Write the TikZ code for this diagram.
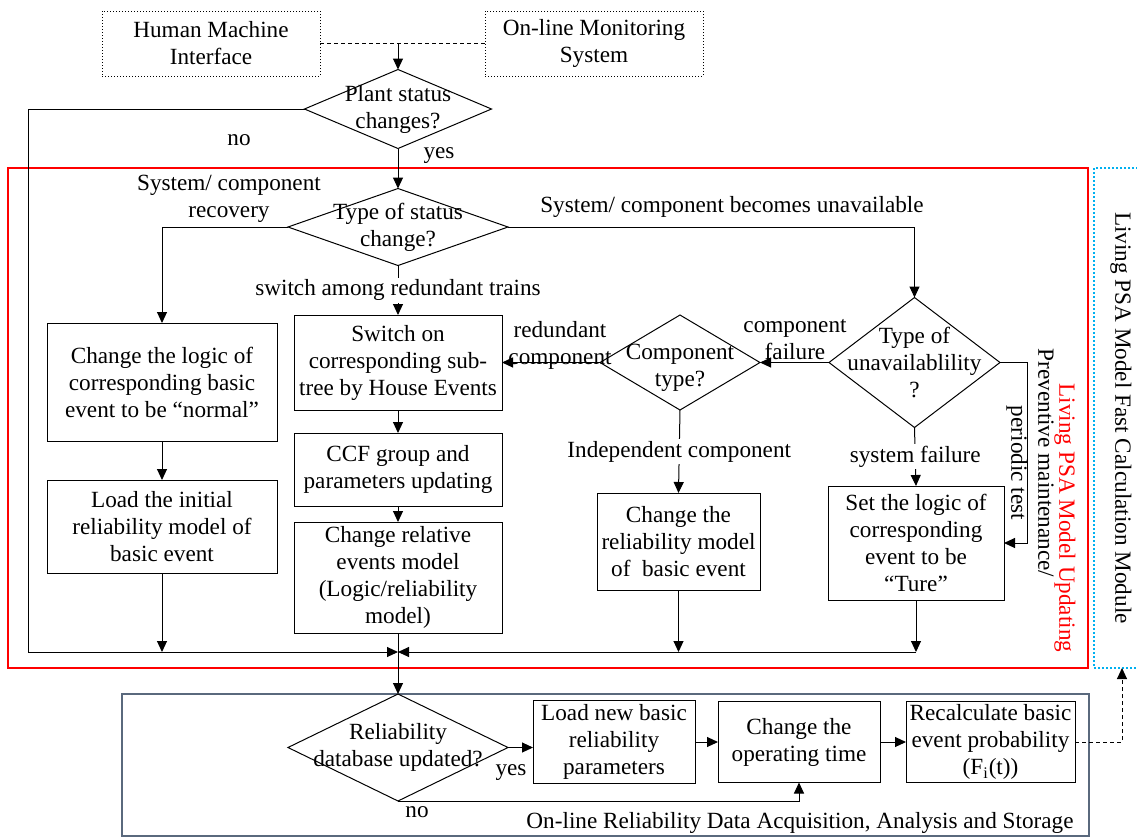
\documentclass[tikz,border=0pt]{standalone}
\usepackage{fontspec}
\setmainfont{Liberation Serif}
\usetikzlibrary{shapes.geometric, arrows.meta}
\definecolor{updred}{RGB}{255,0,0}
\definecolor{calcblue}{RGB}{0,176,240}
\definecolor{acqgray}{RGB}{90,105,125}

\begin{document}
\begin{tikzpicture}[x=0.5pt, y=-0.5pt, line width=0.5pt,
  font=\fontsize{11.6}{13.5}\selectfont,
  arr/.style={-{Triangle[length=5.5pt,width=5pt]}},
  box/.style={draw, rectangle, align=center, inner sep=0pt, outer sep=0pt},
  ext/.style={draw, densely dotted, rectangle, align=center, inner sep=0pt,
    outer sep=0pt, minimum width=109pt, minimum height=32.5pt},
  decide/.style={draw, diamond, inner sep=0pt, outer sep=0pt},
  txt/.style={align=center, inner sep=1pt},
  gap/.style={txt, fill=white}]

\useasboundingbox (0,0) rectangle (1137,837);

% Frames
\draw[updred, line width=1pt] (8,168) rectangle (1088,668);
\draw[calcblue, line width=1pt, densely dotted] (1094,168) rectangle (1150,668);
\draw[acqgray, line width=0.7pt] (122,694) rectangle (1089,836);

% External sources
\node[ext] (hmi) at (211,43.5) {Human Machine\\Interface};
\node[ext] (oms) at (594,43.5) {On-line Monitoring\\System};
\coordinate (hub) at (398,43.5);

% Decisions
\node[decide, minimum width=93.5pt, minimum height=39.5pt] (plant) at (398,109) {};
\node[txt] (plant-t) at (plant) {Plant status\\changes?};
\node[decide, minimum width=110pt, minimum height=38.5pt] (stype) at (398,227) {};
\node[txt] (stype-t) at (stype) {Type of status\\change?};
\node[decide, minimum width=80pt, minimum height=47.5pt] (comp) at (680,362.5) {};
\node[txt] (comp-t) at (680,368) {Component\\type?};
\node[decide, minimum width=85.5pt, minimum height=65pt] (unav) at (914.5,362.5) {};
\node[txt] (unav-t) at (unav) {Type of\\unavailablility\\?};
\node[decide, minimum width=110pt, minimum height=53.5pt] (reldb) at (398,747.5) {};
\node[txt] (reldb-t) at (reldb) {Reliability\\database updated?};

% Process boxes
\node[box, minimum width=115pt, minimum height=59pt] (normal) at (162,382)
  {Change the logic of\\corresponding basic\\event to be~“normal”};
\node[box, minimum width=115pt, minimum height=46.5pt] (initial) at (162,526.5)
  {Load the initial\\reliability model of\\basic event};
\node[box, minimum width=104pt, minimum height=47.5pt] (switch) at (398,362.5)
  {Switch on\\corresponding sub-\\tree by House Events};
\node[box, minimum width=104pt, minimum height=36.5pt] (ccf) at (398,469.5)
  {CCF group and\\parameters updating};
\node[box, minimum width=104pt, minimum height=55.5pt] (relative) at (398,577.5)
  {Change relative\\events model\\(Logic/reliability\\model)};
\node[box, minimum width=81.5pt, minimum height=48.5pt] (indep) at (678.5,541.5)
  {Change the\\reliability model\\of~ basic event};
\node[box, minimum width=88pt, minimum height=57pt] (ture) at (916,543)
  {Set the logic of\\corresponding\\event to be\\“Ture”};
\node[box, minimum width=81pt, minimum height=41.5pt] (loadnew) at (614,742)
  {Load new basic\\reliability\\parameters};
\node[box, minimum width=81pt, minimum height=40.5pt] (optime) at (799,742)
  {Change the\\operating time};
\node[box, minimum width=84.5pt, minimum height=40.5pt] (recalc) at (990.5,742)
  {Recalculate basic\\event probability\\(F\textsubscript{i}(t))};

% Turning points
\coordinate (lcorner) at (28,652);
\coordinate (merge) at (398,652);
\coordinate (rcorner) at (916,652);
\coordinate (pmturn) at (1027,362.5);
\coordinate (upd) at (1122,668);

% Connectors
\draw[dashed, dash pattern=on 2pt off 1.5pt] (hmi.east) -- (oms.west);
\draw[arr] (hub) -- (plant.north);
\draw[arr] (plant.west) -| (lcorner) -- (merge);
\draw[arr] (plant.south) -- (stype.north);
\draw[arr] (stype.west) -| (normal.north);
\draw[arr] (stype.east) -| (unav.north);
\draw[arr] (stype.south) -- node[gap] (trains) {switch among redundant trains} (switch.north);
\draw[arr] (normal.south) -- (initial.north);
\draw[arr] (initial.south) -- (initial.south |- merge);
\draw[arr] (switch.south) -- (ccf.north);
\draw[arr] (ccf.south) -- (relative.north);
\draw (relative.south) -- (merge);
\draw[arr] (comp.west) -- (switch.east);
\draw[arr] (unav.west) -- (comp.east);
\draw[arr] (comp.south) -- node[gap] (indlab) {Independent component} (indep.north);
\draw[arr] (indep.south) -- (indep.south |- merge);
\draw[arr] (unav.south) -- node[gap] (syslab) {system failure} (ture.north);
\draw[arr] (unav.east) -- (pmturn) |- (ture.east);
\draw[arr] (ture.south) -- (rcorner);
\draw[arr] (rcorner) -- (merge);
\draw[arr] (merge) -- (reldb.north);
\draw[arr] (reldb.east) -- (reldb.east -| loadnew.west);
\draw[arr] (loadnew.east) -- (optime.west);
\draw[arr] (optime.east) -- (recalc.west);
\draw[arr] (reldb.south) -| (optime.south);
\draw[arr, dashed, dash pattern=on 2pt off 1.5pt] (recalc.east) -| (upd);

% Labels
\node[txt] (nolab) at (239,140) {no};
\node[txt] (yeslab) at (439,156) {yes};
\node[txt] (reclab) at (229,199) {System/ component\\recovery};
\node[txt] (unalab) at (732,207) {System/ component becomes unavailable};
\node[txt] (redlab) at (560,345) {redundant\\component};
\node[txt] (faillab) at (795,340) {component\\failure};
\node[txt, rotate=-90] (pmlab) at (1030,463) {Preventive maintenance/\\periodic test};
\node[txt, rotate=-90, text=updred] (updlab) at (1065,518) {Living PSA Model Updating};
\node[txt, rotate=-90] (calclab) at (1121,418) {Living PSA Model Fast Calculation Module};
\node[txt] (dbyes) at (511,773) {yes};
\node[txt] (dbno) at (417,812) {no};
\node[txt] (acqlab) at (800,823) {On-line Reliability Data Acquisition, Analysis and Storage};

\end{tikzpicture}
\end{document}
